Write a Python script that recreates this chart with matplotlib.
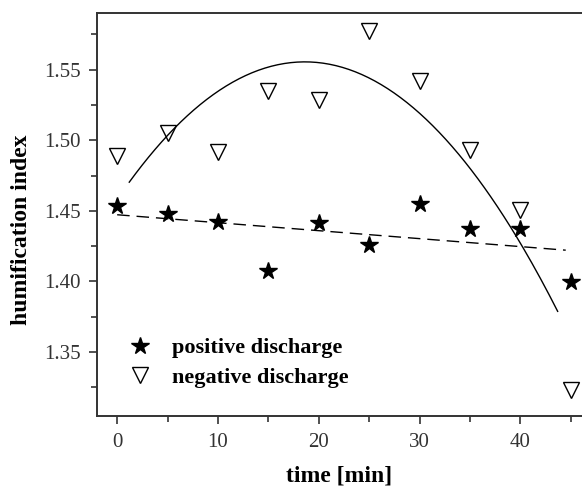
import numpy as np
import matplotlib
matplotlib.use("Agg")
import matplotlib.pyplot as plt
from matplotlib.ticker import MultipleLocator

# data
time_min = [0, 5, 10, 15, 20, 25, 30, 35, 40, 45]
positive = [1.4535, 1.448, 1.4422, 1.4071, 1.4411, 1.4257, 1.4548, 1.4368, 1.4368, 1.3993]
negative = [1.4889, 1.505, 1.4917, 1.5346, 1.5284, 1.5772, 1.5417, 1.4929, 1.4505, 1.3228]
pos_fit_range = [0.0, 44.5]
neg_fit_range = [1.2, 43.7]
labels = ["positive discharge", "negative discharge"]

plt.rcParams['font.family'] = ['Liberation Serif', 'DejaVu Serif']

fig = plt.figure(figsize=(5.82, 4.91), dpi=100)
W, H = 582, 491
ax = fig.add_axes([97 / W, 1 - 416 / H, (600 - 97) / W, (416 - 13) / H])

ax.plot(time_min, positive, linestyle='none', marker='*', markersize=13,
        color='black', label=labels[0])
ax.plot(time_min, negative, linestyle='none', marker='v', markersize=11,
        markerfacecolor='white', markeredgecolor='black', markeredgewidth=1.0,
        label=labels[1])

x = np.array(time_min, dtype=float)
p1 = np.polyfit(x, positive, 1)
xs1 = np.linspace(pos_fit_range[0], pos_fit_range[1], 100)
ax.plot(xs1, np.polyval(p1, xs1), color='black', lw=1.0, dashes=(9, 5))

p2 = np.polyfit(x, negative, 2)
xs2 = np.linspace(neg_fit_range[0], neg_fit_range[1], 200)
ax.plot(xs2, np.polyval(p2, xs2), color='black', lw=1.0)

ax.set_xlim(-2.0, 47.9)
ax.set_ylim(1.3046, 1.5902)
ax.xaxis.set_major_locator(MultipleLocator(10))
ax.xaxis.set_minor_locator(MultipleLocator(5))
ax.yaxis.set_major_locator(MultipleLocator(0.05))
ax.yaxis.set_minor_locator(MultipleLocator(0.025))
ax.yaxis.set_major_formatter(matplotlib.ticker.FormatStrFormatter('%.2f'))

for s in ['left', 'bottom', 'top']:
    ax.spines[s].set_linewidth(1.4)
    ax.spines[s].set_color('#333333')
ax.spines['right'].set_visible(False)

ax.tick_params(which='major', direction='out', length=6, width=1.2,
               labelsize=15, colors='#333333', pad=6, top=False, right=False)
ax.tick_params(which='minor', direction='out', length=4, width=1.2,
               colors='#333333', top=False, right=False)

fig.text(22 / W, 1 - 230 / H, 'humification index', rotation=90,
         ha='center', va='center', fontsize=17, fontweight='bold')
fig.text(339 / W, 1 - 476 / H, 'time [min]', ha='center', va='center',
         fontsize=17, fontweight='bold')

leg = ax.legend(loc='lower left', bbox_to_anchor=(0.02, 0.02), frameon=False,
                prop={'weight': 'bold', 'size': 16}, handletextpad=0.8,
                labelspacing=0.4, handlelength=1.2)

fig.savefig('out.png', dpi=100)
